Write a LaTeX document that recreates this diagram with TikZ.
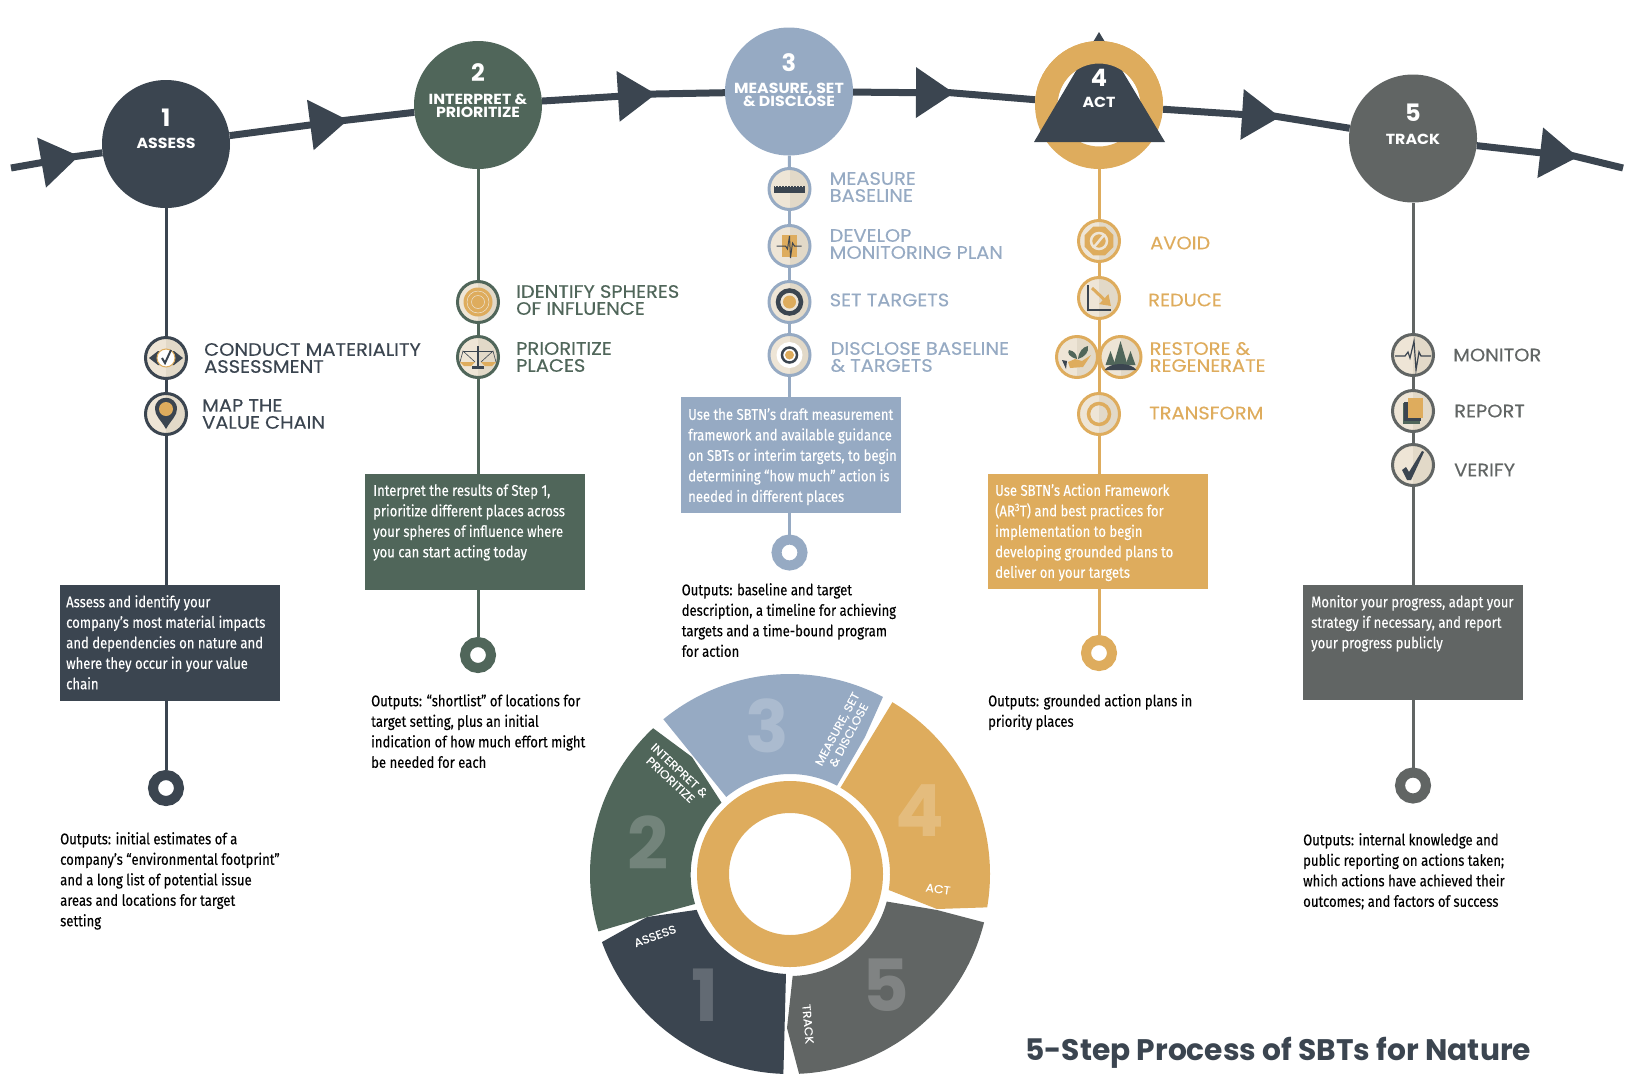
\documentclass[tikz,border=0pt]{standalone}
\usepackage{fontspec}
\setmainfont{Poppins}
\newfontfamily\bodyfont[FakeStretch=0.845,FakeBold=0.2]{Fira Sans}
\newfontfamily\lblfont[FakeStretch=1.08,FakeBold=0.2]{Poppins}
\newfontfamily\namefont[FakeStretch=1.08]{Poppins}
\usepackage{tikz}
\usetikzlibrary{arrows.meta, positioning, shapes.geometric}
\definecolor{navy}{HTML}{3B4550}
\definecolor{fern}{HTML}{50665A}
\definecolor{sky}{HTML}{96AAC3}
\definecolor{gold}{HTML}{DEAC5D}
\definecolor{slate}{HTML}{616564}
\definecolor{cream}{HTML}{EEE5D6}
\definecolor{creamdark}{HTML}{E2D9C8}

\begin{document}
\begin{tikzpicture}[
  x=1pt, y=-1pt,
  stepball/.style={circle, inner sep=0pt, minimum size=128pt},
  stepnum/.style={text=white, font=\fontsize{24}{24}\selectfont\bfseries, inner sep=0pt},
  stepname/.style={text=white, font=\namefont\fontsize{14.6}{14.5}\selectfont\bfseries, align=center, inner sep=0pt},
  icon/.style={circle, draw, line width=3pt, fill=cream, minimum size=41pt, inner sep=0pt,
    path picture={\fill[creamdark] (path picture bounding box.north) rectangle (path picture bounding box.south east);}},
  lbl/.style={font=\lblfont\fontsize{18}{17}\selectfont, align=left, inner sep=0pt},
  box/.style={anchor=north west, inner sep=0pt, minimum width=220pt, minimum height=116pt},
  boxtxt/.style={anchor=north west, inner sep=0pt, align=left, text=white, font=\bodyfont\fontsize{15.5}{20.5}\selectfont},
  outtxt/.style={anchor=north west, inner sep=0pt, align=left, text=black, font=\bodyfont\fontsize{15.5}{20.5}\selectfont},
  enddot/.style={circle, draw, line width=10pt, fill=white, minimum size=26pt, inner sep=0pt},
  stem/.style={line width=3pt},
  flowline/.style={draw=navy, line width=7pt},
  flowback/.style={flowline, shorten <=-14pt},
  flow/.style={flowline, -{Triangle[length=38pt, width=49pt]}},
  bignum/.style={text=white, opacity=.2, font=\fontsize{72}{72}\selectfont\bfseries, inner sep=0pt},
  wheeltxt/.style={text=white, font=\lblfont\fontsize{11.5}{13}\selectfont, align=center, inner sep=0pt}
]
\useasboundingbox (0,0) rectangle (1646,1090);

% Step balls
\node[stepball, fill=navy] (s1) at (166,144) {};
\node[stepball, fill=fern] (s2) at (478,105) {};
\node[stepball, fill=sky] (s3) at (789,91.5) {};
\node[stepball] (s4) at (1099,105) {};
\node[stepball, fill=slate] (s5) at (1413,138.5) {};

% Main line
\coordinate (begin) at (11,168);
\coordinate (tip1) at (79,156);
\coordinate (tip2) at (348,120);
\coordinate (tip3) at (656,94);
\coordinate (tip4) at (954,93);
\coordinate (tip5) at (1280,117);
\coordinate (tip6) at (1578,157);
\coordinate (finish) at (1623,168);
\draw[flow] (begin) -- (tip1);
\draw[flowback] (tip1) -- (s1);
\draw[flow] (s1) -- (tip2);
\draw[flowback] (tip2) -- (s2);
\draw[flow] (s2) -- (tip3);
\draw[flowback] (tip3) -- (s3);
\draw[flow] (s3) -- (tip4);
\draw[flowback] (tip4) -- (s4);
\draw[flow] (s4) -- (tip5);
\draw[flowback] (tip5) -- (s5);
\draw[flow] (s5) -- (tip6);
\draw[flowback] (tip6) -- (finish);

% Ring and big triangle of step 4
\draw[gold, line width=22.5pt] (s4.center) circle (52.75pt);
\fill[navy] (1099,32) -- (1165,142) -- (1034,142) -- cycle;
\begin{scope}
  \clip (1020,20) rectangle (1180,100);
  \draw[gold, line width=22.5pt] (s4.center) circle (52.75pt);
\end{scope}

% Step texts
\node[stepnum] (n1) at (166,118) {1};
\node[stepname] (t1) at (166,143) {ASSESS};
\node[stepnum] (n2) at (478,73) {2};
\node[stepname] (t2) at (478,105.5) {INTERPRET \&\\[-1.5pt]PRIORITIZE};
\node[stepnum] (n3) at (789,63) {3};
\node[stepname] (t3) at (789,94.5) {MEASURE, SET\\[-1.5pt]\& DISCLOSE};
\node[stepnum] (n4) at (1099,78) {4};
\node[stepname] (t4) at (1099,102) {ACT};
\node[stepnum] (n5) at (1413,113) {5};
\node[stepname] (t5) at (1413,139) {TRACK};

% Icons
\node[icon, draw=navy] (a1) at (166,358) {};
\node[icon, draw=navy] (a2) at (166,414) {};
\node[icon, draw=fern] (b1) at (478,302) {};
\node[icon, draw=fern] (b2) at (478,357) {};
\node[icon, draw=sky] (c1) at (789.5,189) {};
\node[icon, draw=sky] (c2) at (789.5,246) {};
\node[icon, draw=sky] (c3) at (789.5,302) {};
\node[icon, draw=sky] (c4) at (789.5,355) {};
\node[icon, draw=gold] (d1) at (1099,241) {};
\node[icon, draw=gold] (d2) at (1099,298) {};
\node[icon, draw=gold] (d3) at (1077,357) {};
\node[icon, draw=gold] (d4) at (1120.5,357) {};
\node[icon, draw=gold] (d5) at (1099,414) {};
\node[icon, draw=slate] (e1) at (1413,355) {};
\node[icon, draw=slate] (e2) at (1413,411) {};
\node[icon, draw=slate] (e3) at (1413,465) {};

% Icon labels
\node[lbl, text=navy, right=16pt of a1] (la1) {CONDUCT MATERIALITY\\ASSESSMENT};
\node[lbl, text=navy, right=14pt of a2] (la2) {MAP THE\\VALUE CHAIN};
\node[lbl, text=fern, right=16pt of b1, yshift=2pt] (lb1) {IDENTIFY SPHERES\\OF INFLUENCE};
\node[lbl, text=fern, right=16pt of b2] (lb2) {PRIORITIZE\\PLACES};
\node[lbl, text=sky, right=18pt of c1, yshift=2pt] (lc1) {MEASURE\\BASELINE};
\node[lbl, text=sky, right=18pt of c2, yshift=2pt] (lc2) {DEVELOP\\MONITORING PLAN};
\node[lbl, text=sky, right=18pt of c3, yshift=2pt] (lc3) {SET TARGETS};
\node[lbl, text=sky, right=19pt of c4, yshift=-2pt] (lc4) {DISCLOSE BASELINE\\\& TARGETS};
\node[lbl, text=gold, right=29pt of d1, yshift=-2pt] (ld1) {AVOID};
\node[lbl, text=gold, right=27pt of d2, yshift=-2pt] (ld2) {REDUCE};
\node[lbl, text=gold, right=7pt of d4] (ld4) {RESTORE \&\\REGENERATE};
\node[lbl, text=gold, right=28pt of d5, yshift=1pt] (ld5) {TRANSFORM};
\node[lbl, text=slate, right=18pt of e1] (le1) {MONITOR};
\node[lbl, text=slate, right=19pt of e2] (le2) {REPORT};
\node[lbl, text=slate, right=19pt of e3, yshift=-5pt] (le3) {VERIFY};

% Boxes
\node[box, fill=navy] (box1) at (59.5,585) {};
\node[box, fill=fern] (box2) at (365,474) {};
\node[box, fill=sky, minimum height=115.5pt] (box3) at (681,397) {};
\node[box, fill=gold, minimum width=219.5pt, minimum height=115pt] (box4) at (988,474) {};
\node[box, fill=slate, minimum height=115pt] (box5) at (1303,585) {};
\node[boxtxt] (txt1) at (66,595) {Assess and identify your\\company’s most material impacts\\and dependencies on nature and\\where they occur in your value\\chain};
\node[boxtxt] (txt2) at (373,484) {Interpret the results of Step 1,\\prioritize different places across\\your spheres of influence where\\you can start acting today};
\node[boxtxt] (txt3) at (688,408) {Use the SBTN’s draft measurement\\framework and available guidance\\on SBTs or interim targets, to begin\\determining “how much” action is\\needed in different places};
\node[boxtxt] (txt4) at (995,483.5) {Use SBTN’s Action Framework\\(AR\textsuperscript{3}T) and best practices for\\implementation to begin\\developing grounded plans to\\deliver on your targets};
\node[boxtxt] (txt5) at (1311,595) {Monitor your progress, adapt your\\strategy if necessary, and report\\your progress publicly};

% End dots
\node[enddot, draw=navy] (dot1) at (166,788) {};
\node[enddot, draw=fern] (dot2) at (478,655) {};
\node[enddot, draw=sky] (dot3) at (789.5,552.5) {};
\node[enddot, draw=gold] (dot4) at (1099,653) {};
\node[enddot, draw=slate] (dot5) at (1413,785.5) {};

% Stems
\draw[stem, navy] (s1) -- (a1);
\draw[stem, navy] (a1) -- (a2);
\draw[stem, navy] (a2) -- (a2 |- box1.north);
\draw[stem, navy] (dot1 |- box1.south) -- (dot1);
\draw[stem, fern] (s2) -- (b1);
\draw[stem, fern] (b1) -- (b2);
\draw[stem, fern] (b2) -- (b2 |- box2.north);
\draw[stem, fern] (dot2 |- box2.south) -- (dot2);
\draw[stem, sky] (s3) -- (c1);
\draw[stem, sky] (c1) -- (c2);
\draw[stem, sky] (c2) -- (c3);
\draw[stem, sky] (c3) -- (c4);
\draw[stem, sky] (c4) -- (c4 |- box3.north);
\draw[stem, sky] (dot3 |- box3.south) -- (dot3);
\draw[stem, gold] (s4) -- (d1);
\draw[stem, gold] (d1) -- (d2);
\draw[stem, gold] (d2) -- (d5);
\draw[stem, gold] (d5) -- (d5 |- box4.north);
\draw[stem, gold] (dot4 |- box4.south) -- (dot4);
\draw[stem, slate] (s5) -- (e1);
\draw[stem, slate] (e1) -- (e2);
\draw[stem, slate] (e2) -- (e3);
\draw[stem, slate] (e3) -- (e3 |- box5.north);
\draw[stem, slate] (dot5 |- box5.south) -- (dot5);

% Glyphs in the icons
\begin{scope}[shift={(a1)}]
  \fill[navy] (-17,0) -- (-8,-7) -- (8,-7) -- (17,0) -- (8,7) -- (-8,7) -- cycle;
  \draw[gold, fill=white, line width=1pt] (0,0) circle (9pt);
  \draw[navy, line width=2pt] (-4,0) -- (-1,5) -- (5,-8);
\end{scope}
\begin{scope}[shift={(a2)}]
  \fill[navy] (0,15) .. controls (-5,6) and (-11,2) .. (-11,-5) .. controls (-11,-20) and (11,-20) .. (11,-5) .. controls (11,2) and (5,6) .. (0,15) -- cycle;
  \fill[gold] (0,-5) circle (7pt);
\end{scope}
\begin{scope}[shift={(b1)}]
  \fill[gold] (0,0) circle (14.5pt);
  \draw[cream, line width=.5pt] (0,0) circle (11pt);
  \draw[cream, line width=.5pt] (0,0) circle (6.5pt);
\end{scope}
\begin{scope}[shift={(b2)}]
  \draw[navy, line width=.6pt] (-15,-6) -- (15,-6);
  \draw[navy, line width=.6pt] (-18,5) -- (-15,-6) -- (-3,5);
  \draw[navy, line width=.6pt] (18,5) -- (15,-6) -- (3,5);
  \fill[navy] (-1,-11) rectangle (1,9);
  \fill[navy] (-6,9) rectangle (6,12);
  \fill[gold] (-18,5) -- (-3,5) -- (-7,9) -- (-14,9) -- cycle;
  \fill[gold] (18,5) -- (3,5) -- (7,9) -- (14,9) -- cycle;
\end{scope}
\begin{scope}[shift={(c1)}]
  \fill[navy] (-15.5,-3) rectangle (15.5,4);
  \draw[cream, line width=1pt, dash pattern=on 1pt off 2pt] (-15,-2.5) -- (15,-2.5);
\end{scope}
\begin{scope}[shift={(c2)}]
  \fill[gold] (-7.5,-11) rectangle (7.5,11);
  \draw[navy, line width=1pt] (-13,0) -- (-4,0) -- (-2,3) -- (0,-10) -- (1,12) -- (3,-3) -- (5,0) -- (12,0);
\end{scope}
\begin{scope}[shift={(c3)}]
  \draw[navy, line width=4.5pt, fill=cream] (0,0) circle (11.5pt);
  \fill[gold] (0,0) circle (6.5pt);
\end{scope}
\begin{scope}[shift={(c4)}]
  \fill[white] (0,0) circle (13pt);
  \draw[navy, line width=2.5pt] (0,0) circle (7.5pt);
  \fill[gold] (0,0) circle (4.5pt);
\end{scope}
\node[regular polygon, regular polygon sides=8, fill=gold, minimum size=31pt, inner sep=0pt] (stopsign) at (d1) {};
\begin{scope}[shift={(d1)}]
  \draw[cream, line width=2.5pt] (0,0) circle (8pt);
  \draw[cream, line width=2.5pt] (-5,6) -- (5,-6);
\end{scope}
\begin{scope}[shift={(d2)}]
  \draw[navy, line width=2pt] (-11,-13) -- (-11,12) -- (12,12);
  \draw[gold, line width=3pt, -{Triangle[length=10pt, width=13pt]}] (-7,-10) -- (12,8);
\end{scope}
\begin{scope}[shift={(d3)}]
  \fill[gold] (-9,5) -- (-2,2) -- (5,4) -- (14,-2) -- (6,10) -- (-7,11) -- cycle;
  \fill[navy] (-15,3) -- (-10,4) -- (-11,12) -- cycle;
  \fill[fern] (0,2) .. controls (-8,0) and (-10,-4) .. (-8,-7) .. controls (-3,-6) and (0,-3) .. (0,2) -- cycle;
  \fill[fern] (1,2) .. controls (2,-6) and (6,-10) .. (11,-11) .. controls (12,-5) and (8,0) .. (1,2) -- cycle;
\end{scope}
\begin{scope}[shift={(d4)}]
  \fill[fern] (0,-16) -- (7,8) -- (-7,8) -- cycle;
  \fill[fern] (-10,-6) -- (-5,8) -- (-15,8) -- cycle;
  \fill[fern] (10,-6) -- (15,8) -- (5,8) -- cycle;
  \fill[navy] (-16,13) .. controls (-10,5) and (10,5) .. (16,13) -- cycle;
\end{scope}
\begin{scope}[shift={(d5)}]
  \draw[gold, line width=3.5pt] (0,0) circle (10.5pt);
\end{scope}
\begin{scope}[shift={(e1)}]
  \draw[navy, line width=1.2pt] (-18,1) -- (-8,1) -- (-5,-3) -- (-3,3) -- (1,-14) -- (3,15) -- (6,-3) -- (8,1) -- (18,1);
\end{scope}
\begin{scope}[shift={(e2)}]
  \fill[fern] (-10,-8) rectangle (7,13);
  \fill[navy] (-9,-9) rectangle (8,10);
  \fill[gold] (-5,-13) rectangle (10,7);
\end{scope}
\begin{scope}[shift={(e3)}]
  \fill[navy] (-11,5) -- (-7,2) -- (-4,7) -- (9,-14) -- (11,-13) -- (-2,15) -- (-6,15) -- cycle;
\end{scope}

% Output texts
\node[outtxt] (o1) at (60,832) {Outputs: initial estimates of a\\company’s “environmental footprint”\\and a long list of potential issue\\areas and locations for target\\setting};
\node[outtxt] (o2) at (371,694) {Outputs: “shortlist” of locations for\\target setting, plus an initial\\indication of how much effort might\\be needed for each};
\node[outtxt] (o3) at (681.5,583) {Outputs: baseline and target\\description, a timeline for achieving\\targets and a time-bound program\\for action};
\node[outtxt] (o4) at (988,694) {Outputs: grounded action plans in\\priority places};
\node[outtxt] (o5) at (1303,833) {Outputs: internal knowledge and\\public reporting on actions taken;\\which actions have achieved their\\outcomes; and factors of success};

% Wheel
\coordinate (wheel) at (790,874);
\draw[gold, line width=32pt] (wheel) circle (77pt);
\begin{scope}[shift={(wheel)}]
  \fill[navy] (199.9:200pt) arc[start angle=199.9, end angle=268.1, radius=200pt] -- (267.7:100pt)
    arc[start angle=267.7, end angle=201, radius=100pt] -- (-143pt,-43pt) -- cycle;
  \fill[fern] (196.7:200pt) arc[start angle=196.7, end angle=133.2, radius=200pt] -- (-98pt,117pt) -- (133.8:99pt)
    arc[start angle=133.8, end angle=197, radius=100pt] -- (-143pt,-43pt) -- cycle;
  \fill[sky] (129.3:200pt) arc[start angle=129.3, end angle=62.3, radius=200pt] -- (75pt,137pt) -- (62:100pt)
    arc[start angle=62, end angle=129.6, radius=100pt] -- cycle;
  \fill[gold] (59.2:200pt) arc[start angle=59.2, end angle=-9.6, radius=200pt] -- (147pt,-35pt) -- (-9.2:100pt)
    arc[start angle=-9.2, end angle=59.7, radius=100pt] -- cycle;
  \fill[slate] (-14:200pt) arc[start angle=-14, end angle=-87.4, radius=200pt] -- (-3pt,-154pt) -- (-88.5:102pt)
    arc[start angle=-88.5, end angle=-14.8, radius=100pt] -- (147pt,-36pt) -- cycle;
\end{scope}

% Wheel texts
\node[bignum] (w1) at (705,995) {1};
\node[bignum] (w2) at (648,843) {2};
\node[bignum] (w3) at (767,726) {3};
\node[bignum] (w4) at (920,811) {4};
\node[bignum] (w5) at (886,985) {5};
\node[wheeltxt, rotate=20] (wa1) at (655,936) {ASSESS};
\node[wheeltxt, rotate=-43] (wa2) at (675,775) {INTERPRET \&\\PRIORITIZE};
\node[wheeltxt, rotate=62] (wa3) at (843,732) {MEASURE, SET\\\& DISCLOSE};
\node[wheeltxt, rotate=-8] (wa4) at (938,889) {ACT};
\node[wheeltxt, rotate=-85] (wa5) at (808,1024) {TRACK};

% Title
\node[anchor=west, inner sep=0pt, text=navy, font=\fontsize{29.7}{30}\selectfont\bfseries] (title) at (1025,1053) {5-Step Process of SBTs for Nature};

\end{tikzpicture}
\end{document}
